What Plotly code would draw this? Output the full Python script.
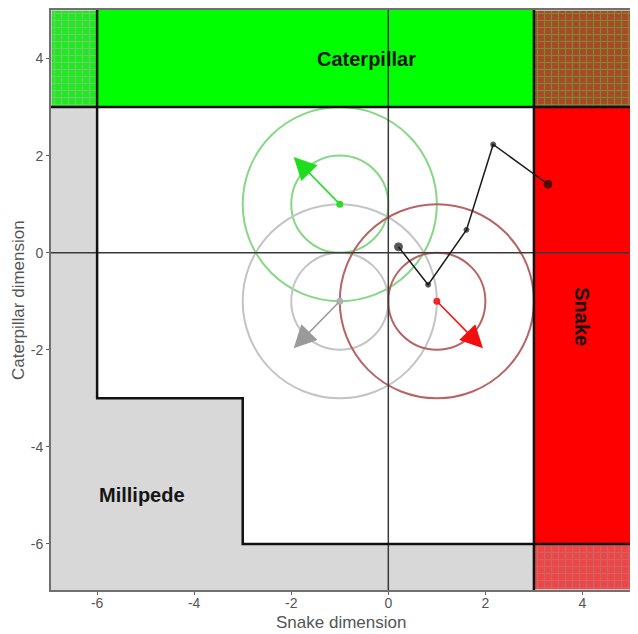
import plotly.graph_objects as go

# ---------------- data ----------------
x_range = [-6.95, 5.0]
y_range = [-6.95, 5.0]
tick_vals = [-6, -4, -2, 0, 2, 4]
tick_text = ["-6", "-4", "-2", "0", "2", "4"]

# zone boundaries (in Snake / Caterpillar dimension units)
zone_left = -6
zone_right = 3
zone_top = 3
zone_bottom = -6
step_x = -3
step_y = -3

# personality circles
circ_names = ["Caterpillar", "Millipede", "Snake"]
circ_cx = [-1, -1, 1]
circ_cy = [1, -1, -1]
circ_r_inner = [1, 1, 1]
circ_r_outer = [2, 2, 2]
arrow_tip_x = [-1.95, -1.95, 1.95]
arrow_tip_y = [1.97, -1.97, -1.97]
circ_line_colors = ["#86D886", "#C4C4C4", "#B86464"]
arrow_colors = ["#1EDC1E", "#9A9A9A", "#F01010"]
dot_colors = ["#2EDC2E", "#B0B0B0", "#F02828"]

# trajectory
traj_x = [0.21, 0.82, 1.61, 2.16, 3.29]
traj_y = [0.12, -0.66, 0.47, 2.23, 1.41]
traj_sizes = [8, 5, 5, 5, 8]

# zone labels
label_text = ["Caterpillar", "Snake", "Millipede"]
label_x = [-0.45, 4.0, -5.07]
label_y = [4.0, -1.32, -5.0]
label_angle = [0, 90, 0]

# ---------------- figure ----------------
fig = go.Figure()
x0, x1 = x_range
y0, y1 = y_range

def poly(xs, ys, fill, line_color="rgba(0,0,0,0)", line_width=0, pattern=None):
    kw = dict(x=xs + [xs[0]], y=ys + [ys[0]], mode="lines", fill="toself",
              fillcolor=fill, line=dict(color=line_color, width=line_width),
              hoverinfo="skip", showlegend=False)
    if pattern:
        kw["fillpattern"] = pattern
    fig.add_trace(go.Scatter(**kw))

# Millipede (grey L-shape)
poly([x0, x0, zone_left, zone_left, step_x, step_x, zone_right, zone_right],
     [y0, zone_top, zone_top, step_y, step_y, zone_bottom, zone_bottom, y0],
     "#D8D8D8")
# Caterpillar (green)
poly([zone_left, zone_right, zone_right, zone_left],
     [zone_top, zone_top, y1, y1], "#00FF00")
# Snake (red)
poly([zone_right, x1, x1, zone_right],
     [zone_bottom, zone_bottom, zone_top, zone_top], "#FF0000")
# hatched corners
poly([x0, zone_left, zone_left, x0], [zone_top, zone_top, y1, y1], "#22E822",
     "#D8D8D8", 1.5,
     dict(shape="+", bgcolor="#22E822", fgcolor="#B4B4B4", size=7, solidity=0.3))
poly([zone_right, x1, x1, zone_right], [zone_top, zone_top, y1, y1], "#A84A28",
     "#D8D8D8", 1.5,
     dict(shape="+", bgcolor="#A84A28", fgcolor="#4CCB3C", size=7, solidity=0.3))
poly([zone_right, x1, x1, zone_right], [y0, y0, zone_bottom, zone_bottom], "#EE4646",
     "#E0E0E0", 1.5,
     dict(shape="+", bgcolor="#EE4646", fgcolor="#A88282", size=7, solidity=0.3))

# axes cross lines
fig.add_trace(go.Scatter(x=[0, 0], y=[y0, y1], mode="lines",
                         line=dict(color="#3A3A3A", width=1.5),
                         hoverinfo="skip", showlegend=False))
fig.add_trace(go.Scatter(x=[x0, x1], y=[0, 0], mode="lines",
                         line=dict(color="#3A3A3A", width=1.5),
                         hoverinfo="skip", showlegend=False))

# zone boundary lines
bl = dict(color="#111111", width=2.5)
fig.add_trace(go.Scatter(x=[x0, x1], y=[zone_top, zone_top], mode="lines",
                         line=bl, hoverinfo="skip", showlegend=False))
fig.add_trace(go.Scatter(x=[zone_left, zone_left, step_x, step_x, x1],
                         y=[y1, step_y, step_y, zone_bottom, zone_bottom],
                         mode="lines", line=bl, hoverinfo="skip", showlegend=False))
fig.add_trace(go.Scatter(x=[zone_right, zone_right], y=[y1, y0], mode="lines",
                         line=bl, hoverinfo="skip", showlegend=False))

# circles
for cx, cy, ri, ro, col in zip(circ_cx, circ_cy, circ_r_inner, circ_r_outer, circ_line_colors):
    for r in (ri, ro):
        fig.add_shape(type="circle", xref="x", yref="y",
                      x0=cx - r, x1=cx + r, y0=cy - r, y1=cy + r,
                      line=dict(color=col, width=2), layer="between")

# centre dots
fig.add_trace(go.Scatter(x=circ_cx, y=circ_cy, mode="markers",
                         marker=dict(color=dot_colors, size=7),
                         hoverinfo="skip", showlegend=False))

# trajectory
fig.add_trace(go.Scatter(x=traj_x, y=traj_y, mode="lines+markers",
                         line=dict(color="#1A1A1A", width=1.5),
                         marker=dict(color="#111111", size=traj_sizes),
                         hoverinfo="skip", showlegend=False))

# arrows
for cx, cy, tx, ty, col in zip(circ_cx, circ_cy, arrow_tip_x, arrow_tip_y, arrow_colors):
    fig.add_annotation(x=tx, y=ty, ax=cx, ay=cy, xref="x", yref="y",
                       axref="x", ayref="y", text="", showarrow=True,
                       arrowhead=2, arrowsize=3, arrowwidth=1.5,
                       arrowcolor=col, standoff=0, startstandoff=0)

# zone labels
for t, lx, ly, ang in zip(label_text, label_x, label_y, label_angle):
    fig.add_annotation(x=lx, y=ly, xref="x", yref="y", text="<b>%s</b>" % t,
                       showarrow=False, textangle=ang,
                       font=dict(family="Liberation Sans, Arial, sans-serif",
                                 size=20, color="#151515"))

axis_common = dict(
    showgrid=False, zeroline=False, showline=True, mirror=True,
    linecolor="#707070", linewidth=2, automargin=False,
    ticks="outside", ticklen=3, tickcolor="#606060",
    tickvals=tick_vals, ticktext=tick_text,
    tickfont=dict(family="Liberation Sans, Arial, sans-serif", size=14, color="#555555"),
)
fig.update_xaxes(range=x_range, ticklabelstandoff=-4, **axis_common)
fig.update_yaxes(range=y_range, ticklabelstandoff=0, **axis_common)

# axis titles as paper annotations for exact placement
fig.add_annotation(x=0.5, y=0.0, xref="paper", yref="paper", yshift=-32,
                   xanchor="center", yanchor="middle",
                   text="Snake dimension", showarrow=False,
                   font=dict(family="Liberation Sans, Arial, sans-serif",
                             size=17, color="#555555"))
fig.add_annotation(x=0.0, y=0.5, xref="paper", yref="paper", xshift=-33,
                   xanchor="center", yanchor="middle",
                   text="Caterpillar dimension", showarrow=False, textangle=-90,
                   font=dict(family="Liberation Sans, Arial, sans-serif",
                             size=17, color="#555555"))

# page body adds an 8px offset, so the figure is sized to fit the window
fig.update_layout(
    width=630, height=626,
    margin=dict(l=43, r=7, t=2, b=44),
    plot_bgcolor="white", paper_bgcolor="white",
    showlegend=False,
)

fig.write_html("out.html")
